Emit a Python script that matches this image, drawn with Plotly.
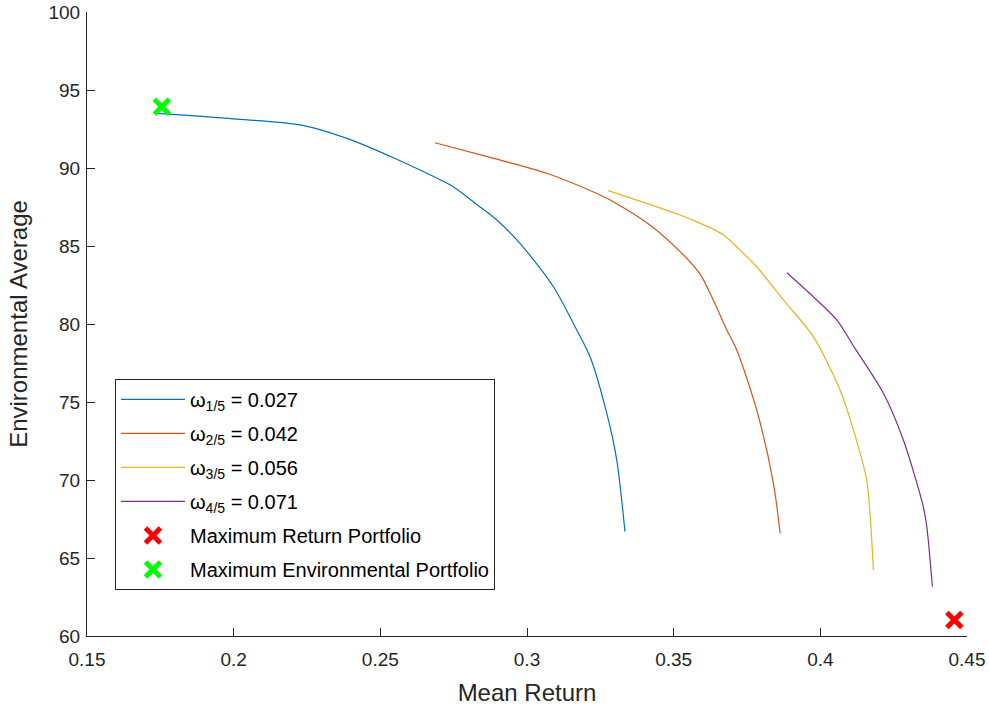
import plotly.graph_objects as go

# ---- data ----
blue_x = [0.1743, 0.2000, 0.2226, 0.2400, 0.2556, 0.2635, 0.2748, 0.2840, 0.2897, 0.2976,
          0.3090, 0.3170, 0.3215, 0.3272, 0.3306, 0.3334]
blue_y = [93.50, 93.15, 92.76, 91.80, 90.56, 89.87, 88.80, 87.50, 86.67, 85.17,
          82.39, 79.60, 77.90, 74.27, 71.28, 66.69]

orange_x = [0.2686, 0.2900, 0.3067, 0.3249, 0.3294, 0.3419, 0.3522, 0.3590, 0.3635, 0.3681,
            0.3715, 0.3783, 0.3840, 0.3863]
orange_y = [91.62, 90.55, 89.66, 88.27, 87.84, 86.35, 84.64, 83.20, 81.54, 79.62,
            78.33, 74.49, 69.79, 66.58]

yellow_x = [0.3277, 0.3522, 0.3578, 0.3670, 0.3726, 0.3783, 0.3874, 0.3976, 0.4067, 0.4113,
            0.4158, 0.4170, 0.4181]
yellow_y = [88.55, 86.99, 86.56, 85.71, 84.74, 83.67, 81.54, 79.19, 75.77, 73.20,
            70.00, 67.65, 64.23]

purple_x = [0.3886, 0.3976, 0.4056, 0.4118, 0.4215, 0.4283, 0.4351, 0.4363, 0.4382]
purple_y = [83.29, 81.75, 80.26, 78.44, 75.56, 72.56, 68.29, 67.00, 63.16]

max_return_x = [0.4457]
max_return_y = [61.03]
max_env_x = [0.1755]
max_env_y = [93.93]

series_names = ["ω<sub>1/5</sub> = 0.027", "ω<sub>2/5</sub> = 0.042",
                "ω<sub>3/5</sub> = 0.056", "ω<sub>4/5</sub> = 0.071"]
marker_names = ["Maximum Return Portfolio", "Maximum Environmental Portfolio"]

x_ticks = [0.15, 0.2, 0.25, 0.3, 0.35, 0.4, 0.45]
x_tick_text = ["0.15", "0.2", "0.25", "0.3", "0.35", "0.4", "0.45"]
y_ticks = [60, 65, 70, 75, 80, 85, 90, 95, 100]

colors = ["#0072BD", "#D95319", "#EDB120", "#7E2F8E"]

fig = go.Figure()
for i, (xs, ys, name, c) in enumerate(zip([blue_x, orange_x, yellow_x, purple_x],
                                          [blue_y, orange_y, yellow_y, purple_y],
                                          series_names, colors)):
    fig.add_trace(go.Scatter(x=xs, y=ys, mode="lines", name=name, legendgroup=f"g{i}",
                             line=dict(color=c, width=1.2, shape="spline", smoothing=0.8)))

fig.add_trace(go.Scatter(x=max_return_x, y=max_return_y, mode="markers", name=marker_names[0],
                         legendgroup="g4",
                         marker=dict(symbol="x-thin", size=15, color="#FF0000",
                                     line=dict(color="#FF0000", width=5))))
fig.add_trace(go.Scatter(x=max_env_x, y=max_env_y, mode="markers", name=marker_names[1],
                         legendgroup="g5",
                         marker=dict(symbol="x-thin", size=15, color="#00FF00",
                                     line=dict(color="#00FF00", width=5))))

axis_common = dict(showgrid=False, zeroline=False, showline=True, linecolor="#262626",
                   linewidth=1, ticks="inside", ticklen=8, tickcolor="#262626",
                   tickfont=dict(family="Liberation Sans, Arial", size=19, color="#262626"),
                   mirror=False, automargin=False, ticklabeloverflow="allow")

fig.update_layout(
    width=989, height=709,
    margin=dict(l=87, r=22, t=12, b=73),
    paper_bgcolor="white", plot_bgcolor="white",
    font=dict(family="Liberation Sans, Arial", color="#262626"),
    xaxis=dict(range=[0.15, 0.45], tickvals=x_ticks, ticktext=x_tick_text,
               ticklabelstandoff=6,
               title=dict(text="Mean Return", font=dict(size=24, color="#262626"), standoff=15),
               **axis_common),
    yaxis=dict(range=[60, 100], tickvals=y_ticks, ticklabelstandoff=2,
               title=dict(text="Environmental Average", font=dict(size=24, color="#262626"), standoff=14),
               **axis_common),
    legend=dict(x=0.0318, y=0.412, xanchor="left", yanchor="top",
                bgcolor="white", bordercolor="#262626", borderwidth=1,
                font=dict(family="Liberation Sans, Arial", size=20, color="#000000"),
                itemwidth=64, traceorder="grouped", tracegroupgap=5),
    showlegend=True,
)

fig.write_html("out.html", config={"displayModeBar": False},
               post_script="document.body.style.margin='0';document.body.style.overflow='hidden';")
